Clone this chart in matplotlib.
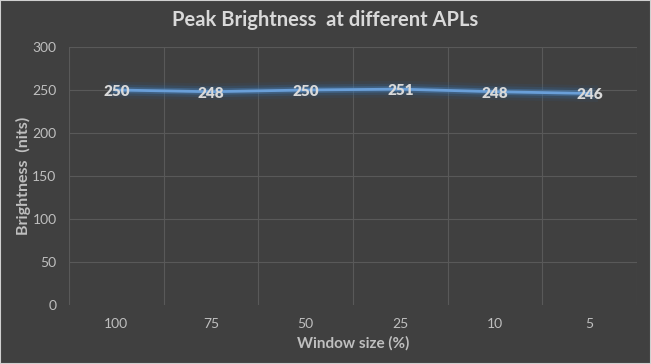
import numpy as np
import matplotlib.pyplot as plt
import matplotlib.patheffects as pe
from matplotlib.patches import Rectangle

# data
window_sizes = ['100', '75', '50', '25', '10', '5']
brightness = [250, 248, 250, 251, 248, 246]

bg = '#404040'
grid_c = '#595959'
txt_c = '#d9d9d9'
tick_c = '#bfbfbf'
line_c = '#6a9fd8'

plt.rcParams['font.family'] = ['Lato', 'DejaVu Sans']

fig = plt.figure(figsize=(6.51, 3.64), dpi=100, facecolor=bg)
ax = fig.add_axes([69/651, 1-305/364, 568/651, 258/364])
ax.set_facecolor(bg)

x = np.arange(len(window_sizes))
ax.set_xlim(-0.5, len(window_sizes) - 0.5)
ax.set_ylim(0, 300)
ax.set_yticks(np.arange(0, 301, 50))
ax.set_xticks(x)
ax.set_xticklabels(window_sizes)

# gridlines (vertical on category boundaries)
for yv in np.arange(50, 301, 50):
    ax.axhline(yv, color=grid_c, lw=0.8, zorder=1)
for xv in np.arange(-0.5, len(window_sizes), 1):
    ax.axvline(xv, color=grid_c, lw=0.8, zorder=1)

for s in ax.spines.values():
    s.set_visible(False)
ax.tick_params(length=0, colors=tick_c, labelsize=10)
ax.tick_params(axis='x', pad=9)
ax.tick_params(axis='y', pad=9)

# line with soft glow
ax.plot(x, brightness, color=line_c, lw=2, zorder=3,
        path_effects=[pe.Stroke(linewidth=12, foreground='#2c5a85', alpha=0.15),
                      pe.Stroke(linewidth=8, foreground='#35679a', alpha=0.25),
                      pe.Stroke(linewidth=4.5, foreground='#4a82bd', alpha=0.4),
                      pe.Normal()])

for xi, v in zip(x, brightness):
    ax.text(xi, v - 1.5, str(v), ha='center', va='center', color=txt_c,
            fontsize=11, fontweight='heavy', zorder=4)

ax.set_xlabel('Window size (%)', color=tick_c, fontsize=11, fontweight='bold', labelpad=5)
ax.set_ylabel('Brightness  (nits)', color=tick_c, fontsize=11.5, fontweight='bold')
ax.yaxis.set_label_coords(-38/568, 0.5)

fig.text(0.5, 1-20/364, 'Peak Brightness  at different APLs', ha='center', va='center',
         color=txt_c, fontsize=14.5, fontweight='bold')

fig.patches.append(Rectangle((0, 0), 1, 1, transform=fig.transFigure, fill=False,
                             edgecolor='#d0d0d0', lw=1.5))

fig.savefig('out.png', dpi=100, facecolor=bg)
